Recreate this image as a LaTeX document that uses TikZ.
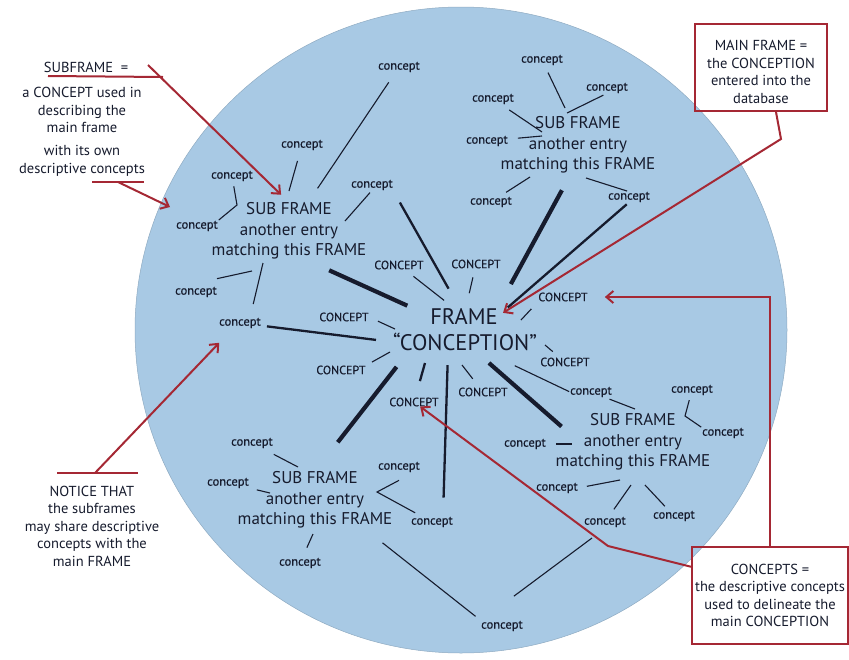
\documentclass[tikz,border=0pt]{standalone}
\usepackage{fontspec}
\setmainfont{PT Sans}
\newfontfamily\tagfont[FakeBold=0.4]{PT Sans}
\usetikzlibrary{arrows.meta}
\definecolor{sky}{RGB}{168,201,228}
\definecolor{ink}{RGB}{22,27,45}
\definecolor{pen}{RGB}{165,40,52}

\begin{document}
\begin{tikzpicture}[x=1pt,y=-1pt,
  lowcpt/.style={inner sep=0pt,text=ink,font=\tagfont\fontsize{12.5}{14}\selectfont},
  capcpt/.style={inner sep=0pt,text=ink,font=\tagfont\fontsize{12}{13}\selectfont},
  sub/.style={inner sep=0pt,align=center,text=ink,font=\fontsize{17}{20.5}\selectfont},
  hub/.style={inner sep=0pt,text=ink,font=\fontsize{22.5}{26}\selectfont},
  note/.style={inner sep=0pt,align=center,text=ink,font=\fontsize{14.5}{17.5}\selectfont},
  boxnote/.style={note,draw=pen,line width=2pt},
  tie/.style={draw=ink,line width=1.1pt},
  spoke/.style={draw=ink,line width=2.3pt},
  thickbar/.style={draw=ink,line width=4.2pt},
  redline/.style={draw=pen,line width=2pt},
  redarrow/.style={redline,-{Straight Barb[length=7pt,width=12pt]}}]
\useasboundingbox (0,0) rectangle (849,659);
\filldraw[fill=sky,draw=sky!85!black,line width=0.5pt] (461,330) ellipse [x radius=326,y radius=323];

\node[hub] (frm) at (464,316) {FRAME};
\node[hub] (conc) at (465,342) {“CONCEPTION”};

\node[capcpt] (K1) at (399,265) {CONCEPT};
\node[capcpt] (K2) at (476,264) {CONCEPT};
\node[capcpt] (K3) at (563,297) {CONCEPT};
\node[capcpt] (K4) at (344,317) {CONCEPT};
\node[capcpt] (K5) at (565,362) {CONCEPT};
\node[capcpt] (K6) at (341,370) {CONCEPT};
\node[capcpt] (K7) at (483,392) {CONCEPT};
\node[capcpt] (K8) at (414,402) {CONCEPT};

\node[sub] (sfA) at (289,231) {SUB FRAME\\another entry\\matching this FRAME};
\node[sub] (sfB) at (578,145) {SUB FRAME\\another entry\\matching this FRAME};
\node[sub] (sfC) at (633,442) {SUB FRAME\\another entry\\matching this FRAME};
\node[sub] (sfD) at (315,500) {SUB FRAME\\another entry\\matching this FRAME};

\node[lowcpt] (a1) at (302,145) {concept};
\node[lowcpt] (a2) at (232,176) {concept};
\node[lowcpt] (a3) at (197,226) {concept};
\node[lowcpt] (a4) at (196,292) {concept};
\node[lowcpt] (a5) at (240,323) {concept};
\node[lowcpt] (a6) at (399,67) {concept};
\node[lowcpt] (a7) at (372,185) {concept};
\node[lowcpt] (b1) at (542,60) {concept};
\node[lowcpt] (b2) at (607,88) {concept};
\node[lowcpt] (b3) at (493,99) {concept};
\node[lowcpt] (b4) at (487,141) {concept};
\node[lowcpt] (b5) at (491,202) {concept};
\node[lowcpt] (b6) at (629,197) {concept};
\node[lowcpt] (c1) at (591,392) {concept};
\node[lowcpt] (c2) at (692,390) {concept};
\node[lowcpt] (c3) at (723,433) {concept};
\node[lowcpt] (c4) at (525,444) {concept};
\node[lowcpt] (c5) at (557,488) {concept};
\node[lowcpt] (c6) at (605,522) {concept};
\node[lowcpt] (c7) at (674,516) {concept};
\node[lowcpt] (d1) at (252,443) {concept};
\node[lowcpt] (d2) at (228,483) {concept};
\node[lowcpt] (d3) at (399,467) {concept};
\node[lowcpt] (d4) at (432,522) {concept};
\node[lowcpt] (d5) at (300,563) {concept};
\node[lowcpt] (e1) at (502,626) {concept};

\node[note] (subA) at (86,67) {SUBFRAME \ =};
\node[note] (subB) at (82,110) {a CONCEPT used in\\describing the\\main frame};
\node[note] (subC) at (82,161) {with its own\\descriptive concepts};
\node[note] (notice) at (92,526) {NOTICE THAT\\the subframes\\may share descriptive\\concepts with the\\main FRAME};
\node[boxnote,minimum width=132pt,minimum height=87pt] (mainbox) at (761,67.5) {\rule{0pt}{19pt}MAIN FRAME =\\the CONCEPTION\\entered into the\\database};
\node[boxnote,minimum width=156pt,minimum height=97pt] (cptbox) at (770,595.5) {CONCEPTS =\\the descriptive concepts\\used to delineate the\\main CONCEPTION};

\coordinate (tA1) at (289,191);
\coordinate (vA) at (237,205);
\coordinate (tA4) at (252,271);
\coordinate (tA5) at (263,263);
\coordinate (tA7) at (345,221);
\coordinate (tB1) at (565,108);
\coordinate (tB2) at (567,113);
\coordinate (tB3) at (542,132);
\coordinate (tB4) at (542,136);
\coordinate (tB5) at (530,177);
\coordinate (tB6) at (586,178);
\coordinate (tC1) at (635,409);
\coordinate (vC) at (685,416);
\coordinate (tC4) at (572,444);
\coordinate (tC5) at (620,480);
\coordinate (tC6) at (631,485);
\coordinate (tC7) at (645,485);
\coordinate (tE1) at (592,538);
\coordinate (tD1) at (298,467);
\coordinate (tD2) at (270,493);
\coordinate (vD) at (377,492);
\coordinate (tD5) at (313,534);
\coordinate (tK3) at (521,320);
\coordinate (tK4) at (395,329);
\coordinate (tK5) at (545,345);
\coordinate (tK6) at (390,352);
\coordinate (tK7) at (462,365);
\coordinate (tK8) at (425,363);
\coordinate (uA1) at (48,76);
\coordinate (uA2) at (163,77);
\coordinate (sA) at (148,65);
\coordinate (uB1) at (92,182);
\coordinate (uB2) at (144,182);
\coordinate (sB) at (118,182);
\coordinate (hB) at (170,207);
\coordinate (uN1) at (57,473);
\coordinate (uN2) at (138,473);
\coordinate (sN) at (95,473);
\coordinate (kMF) at (781,139);
\coordinate (kCB) at (608,546);

\draw[tie,shorten <=11pt] (a1) -- (tA1);
\draw[tie,shorten <=5pt,shorten >=1pt] (a2) -- (vA) -- (a3.north east);
\draw[tie] ([yshift=8pt]a4.north east) -- (tA4);
\draw[tie,shorten <=14pt] ([xshift=10pt]a5.north) -- (tA5);
\draw[spoke,shorten <=6pt,shorten >=17pt] (a5) -- (conc.west);
\draw[tie,shorten <=12pt,shorten >=17pt] (a6) -- (sfA);
\draw[tie,shorten <=3pt] (a7.south) -- (tA7);
\draw[spoke,shorten <=14pt,shorten >=22pt] (a7.south east) -- (frm);
\draw[thickbar,shorten <=26pt,shorten >=25pt] (sfA.-60) -- (frm.west);

\draw[tie,shorten <=8pt] (b1) -- (tB1);
\draw[tie,shorten <=4pt] (b2.south) -- (tB2);
\draw[tie,shorten <=10pt] (b3) -- (tB3);
\draw[tie,shorten <=10pt] (b4) -- (tB4);
\draw[tie,shorten <=8pt] (b5) -- (tB5);
\draw[tie,shorten <=2pt] (b6.north) -- (tB6);
\draw[spoke,shorten <=3pt,shorten >=13pt] (b6.south) -- (frm.east);
\draw[thickbar,shorten <=19pt,shorten >=27pt] ([xshift=-7pt]sfB.south) -- (frm.north east);

\draw[tie,shorten <=34pt,shorten >=1pt] (conc) -- (c1.west);
\draw[tie,shorten <=5pt] (c1) -- (tC1);
\draw[tie,shorten <=5pt,shorten >=1pt] (c2) -- (vC) -- (c3.north west);
\draw[tie,shorten <=10pt] (c4) -- (tC4);
\draw[tie,shorten <=9pt] (c5.east) -- (tC5);
\draw[tie,shorten <=9pt] (c6) -- (tC6);
\draw[tie,shorten <=6pt] (c7) -- (tC7);
\draw[thickbar,shorten <=18pt,shorten >=-8pt] (conc) -- (sfC.165);
\draw[tie,shorten <=41pt] (e1.north west) -- (tE1);
\draw[tie,shorten <=23pt,shorten >=7pt] (sfD.-30) -- (e1.north west);

\draw[tie,shorten <=13pt] (d1) -- (tD1);
\draw[tie,shorten <=8pt] (d2) -- (tD2);
\draw[tie,shorten >=8pt] ([yshift=-8pt]d3.south) -- (vD) -- (d4);
\draw[tie,shorten <=11pt] (d5) -- (tD5);
\draw[spoke,shorten <=14pt,shorten >=19pt] ([xshift=-17pt]conc.south) -- ([xshift=11pt]d4.north);
\draw[thickbar,shorten <=20pt,shorten >=37pt] ([xshift=16pt]conc.south west) -- (sfD.north);

\draw[tie,shorten <=11pt,shorten >=12pt] (K1) -- (frm);
\draw[tie,shorten <=9pt,shorten >=15pt] (K2) -- (frm);
\draw[tie,shorten <=10pt] (K3.south west) -- (tK3);
\draw[tie,shorten <=10pt] (K4.east) -- (tK4);
\draw[tie,shorten <=9pt] (K5) -- (tK5);
\draw[tie,shorten <=7pt] (K6.north east) -- (tK6);
\draw[tie,shorten <=11pt] (K7) -- (tK7);
\draw[spoke,shorten <=17pt] (K8) -- (tK8);

\draw[redline] (uA1) -- (uA2);
\draw[redarrow,shorten >=11pt] (sA) -- (sfA.north);
\draw[redline] (uB1) -- (uB2);
\draw[redarrow] (sB) -- (hB);
\draw[redline] (uN1) -- (uN2);
\draw[redarrow,shorten >=20pt] (sN) -- ([xshift=-7pt]a5.south);
\draw[redarrow,shorten >=6pt] ([xshift=15pt]mainbox.south) -- (kMF) -- (frm.east);
\draw[redarrow,shorten >=17pt] (cptbox.north) |- (K3.east);
\draw[redarrow] (cptbox.160) -- (kCB) -- (K8);
\end{tikzpicture}
\end{document}
